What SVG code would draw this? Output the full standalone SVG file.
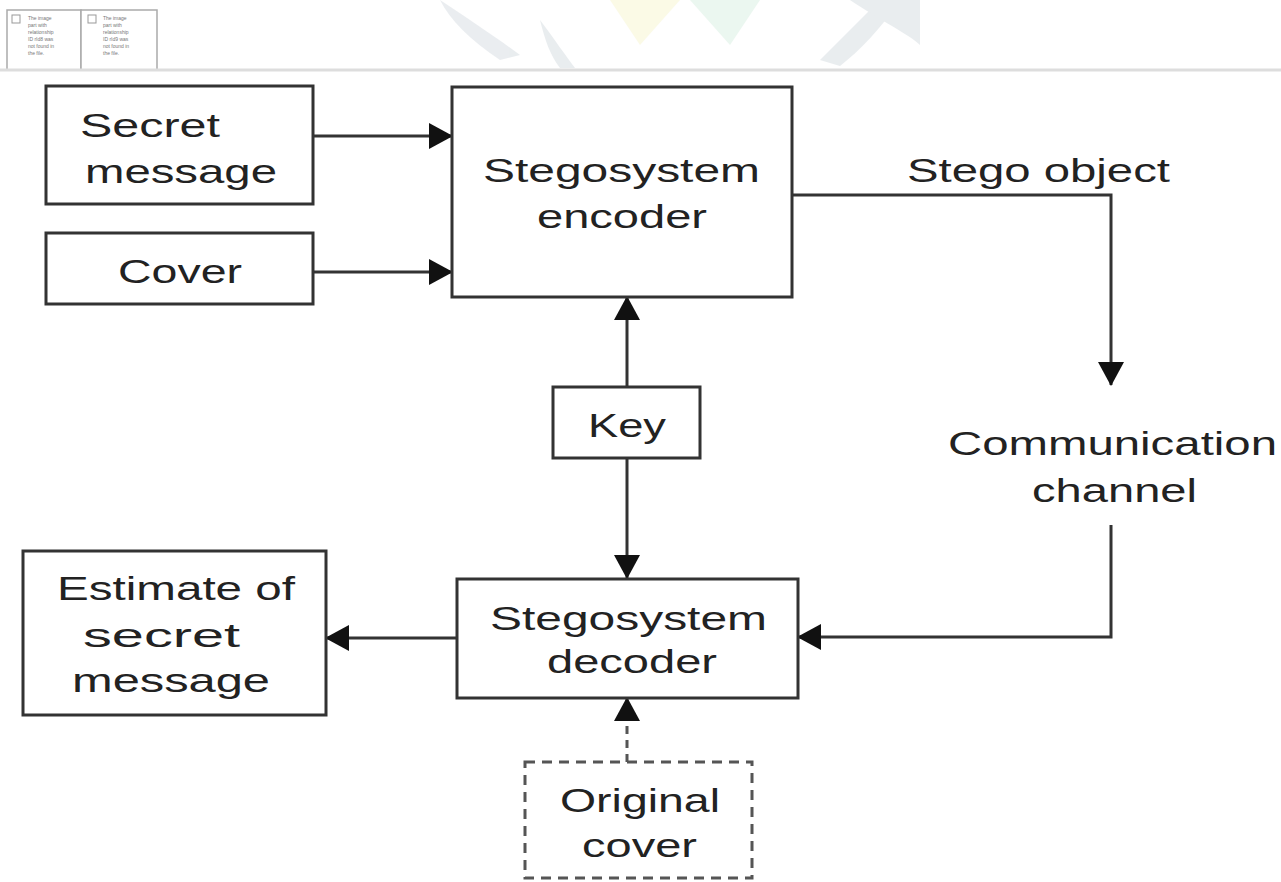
<svg xmlns="http://www.w3.org/2000/svg" width="1281" height="882" viewBox="0 0 1281 882">
<style>
.box{fill:#fff;stroke:#333;stroke-width:3}
.dash{fill:#fff;stroke:#555;stroke-width:3;stroke-dasharray:10 7}
.t{font-family:"Liberation Sans",Arial,sans-serif;font-size:47px;fill:#222}
.c{fill:none;stroke:#333;stroke-width:3}
.cd{fill:none;stroke:#555;stroke-width:3;stroke-dasharray:8 6}
.ph{fill:#fff;stroke:#aaa;stroke-width:1.5}
.pt{font-family:"Liberation Sans",Arial,sans-serif;font-size:5px;fill:#777}
</style>
<defs>
<marker id="ah" viewBox="0 0 24 26" refX="23" refY="13" markerWidth="24" markerHeight="26" markerUnits="userSpaceOnUse" orient="auto">
<path d="M0,0 L24,13 L0,26 z" fill="#111"/>
</marker>
</defs>
<rect width="1281" height="882" fill="#fff"/>
<g id="watermark" opacity="0.3">
<path d="M440,0 C470,20 500,40 520,55 L500,60 C470,40 450,20 440,0 z" fill="#b8c4cc"/>
<path d="M610,0 L640,45 L680,0 z" fill="#f3efb0"/>
<path d="M690,0 L730,45 L760,0 z" fill="#bfe6cf"/>
<path d="M820,60 C840,40 860,20 880,0 L900,0 C880,30 860,50 840,66 z" fill="#b8c4cc"/>
<path d="M850,0 C880,20 910,35 920,45 L920,0 z" fill="#b8c4cc"/>
<path d="M540,20 C555,40 565,55 575,68 L560,68 C550,55 545,40 540,20 z" fill="#b8c4cc"/>
</g>
<g id="placeholders">
<rect class="ph" x="7" y="10" width="74" height="60"/>
<rect class="ph" x="81" y="10" width="76" height="60"/>
<rect x="12" y="15" width="8" height="8" fill="none" stroke="#999" stroke-width="1"/>
<rect x="88" y="15" width="8" height="8" fill="none" stroke="#999" stroke-width="1"/>
<text class="pt" x="28" y="20">The image</text>
<text class="pt" x="28" y="27">part with</text>
<text class="pt" x="28" y="34">relationship</text>
<text class="pt" x="28" y="41">ID rId8 was</text>
<text class="pt" x="28" y="48">not found in</text>
<text class="pt" x="28" y="55">the file.</text>
<text class="pt" x="103" y="20">The image</text>
<text class="pt" x="103" y="27">part with</text>
<text class="pt" x="103" y="34">relationship</text>
<text class="pt" x="103" y="41">ID rId9 was</text>
<text class="pt" x="103" y="48">not found in</text>
<text class="pt" x="103" y="55">the file.</text>
<line x1="0" y1="70" x2="1281" y2="70" stroke="#ddd" stroke-width="3"/>
</g>
<g id="connectors">
<path class="c" d="M313,136 H452" marker-end="url(#ah)"/>
<path class="c" d="M313,272 H452" marker-end="url(#ah)"/>
<path class="c" d="M627,387 V297" marker-end="url(#ah)"/>
<path class="c" d="M627,458 V578" marker-end="url(#ah)"/>
<path class="c" d="M792,195 H1111 V385" marker-end="url(#ah)"/>
<path class="c" d="M1111,525 V637 H798" marker-end="url(#ah)"/>
<path class="c" d="M457,638 H326" marker-end="url(#ah)"/>
<path class="cd" d="M627,762 V698" marker-end="url(#ah)"/>
</g>
<g id="secret-message">
<rect class="box" x="46" y="86" width="267" height="118"/>
<g transform="scale(1,0.72)">
<text class="t" x="80" y="190.3" textLength="140" lengthAdjust="spacingAndGlyphs">Secret</text>
<text class="t" x="85" y="254.2" textLength="192" lengthAdjust="spacingAndGlyphs">message</text>
</g>
</g>
<g id="cover">
<rect class="box" x="46" y="233" width="267" height="71"/>
<g transform="scale(1,0.72)">
<text class="t" x="118" y="393.1" textLength="124" lengthAdjust="spacingAndGlyphs">Cover</text>
</g>
</g>
<g id="encoder">
<rect class="box" x="452" y="87" width="340" height="210"/>
<g transform="scale(1,0.72)">
<text class="t" x="483" y="252.8" textLength="277" lengthAdjust="spacingAndGlyphs">Stegosystem</text>
<text class="t" x="537" y="316.7" textLength="170" lengthAdjust="spacingAndGlyphs">encoder</text>
</g>
</g>
<g id="stego-object">
<g transform="scale(1,0.72)">
<text class="t" x="907" y="252.8" textLength="263" lengthAdjust="spacingAndGlyphs">Stego object</text>
</g>
</g>
<g id="key">
<rect class="box" x="553" y="387" width="147" height="71"/>
<g transform="scale(1,0.72)">
<text class="t" x="588" y="606.9" textLength="78" lengthAdjust="spacingAndGlyphs">Key</text>
</g>
</g>
<g id="channel">
<g transform="scale(1,0.72)">
<text class="t" x="948" y="631.9" textLength="329" lengthAdjust="spacingAndGlyphs">Communication</text>
<text class="t" x="1032" y="697.2" textLength="165" lengthAdjust="spacingAndGlyphs">channel</text>
</g>
</g>
<g id="decoder">
<rect class="box" x="457" y="579" width="341" height="119"/>
<g transform="scale(1,0.72)">
<text class="t" x="490" y="875" textLength="277" lengthAdjust="spacingAndGlyphs">Stegosystem</text>
<text class="t" x="547" y="934.7" textLength="170" lengthAdjust="spacingAndGlyphs">decoder</text>
</g>
</g>
<g id="estimate">
<rect class="box" x="23" y="551" width="303" height="164"/>
<g transform="scale(1,0.72)">
<text class="t" x="57" y="833.3" textLength="238" lengthAdjust="spacingAndGlyphs">Estimate of</text>
<text class="t" x="83" y="898.6" textLength="157" lengthAdjust="spacingAndGlyphs">secret</text>
<text class="t" x="72" y="961.1" textLength="198" lengthAdjust="spacingAndGlyphs">message</text>
</g>
</g>
<g id="original-cover">
<rect class="dash" x="525" y="762" width="227" height="116"/>
<g transform="scale(1,0.72)">
<text class="t" x="560" y="1127.8" textLength="160" lengthAdjust="spacingAndGlyphs">Original</text>
<text class="t" x="582" y="1190.3" textLength="115" lengthAdjust="spacingAndGlyphs">cover</text>
</g>
</g>
</svg>
